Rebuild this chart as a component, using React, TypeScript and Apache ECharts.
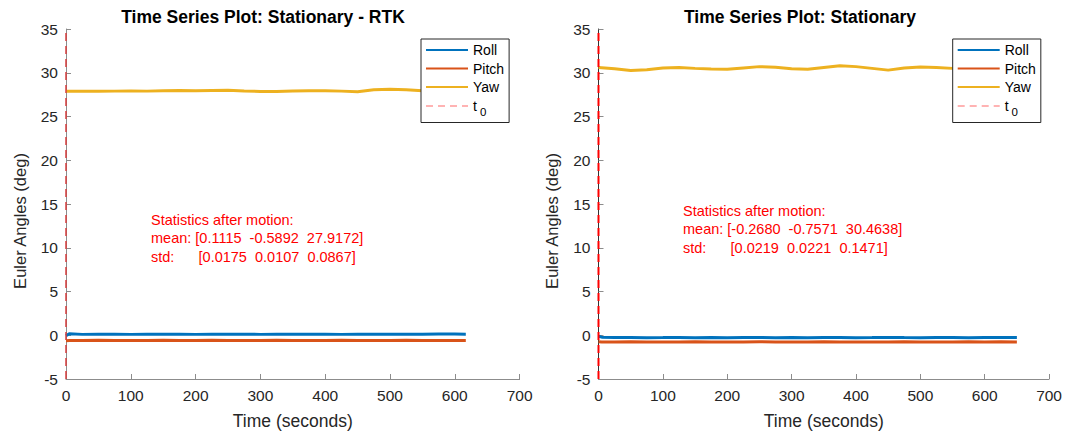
import React, { useEffect, useRef } from 'react';
import * as echarts from 'echarts';

const FONT = '"Liberation Sans", Arial, Helvetica, sans-serif';

const titles = ['Time Series Plot: Stationary - RTK', 'Time Series Plot: Stationary'];
const seriesNames = ['Roll', 'Pitch', 'Yaw', 't0'];
const seriesColors = ['#0072BD', '#D95319', '#EDB120'];
const xTicks = { min: 0, max: 700, interval: 100 };
const yTicks = { min: -5, max: 35, interval: 5 };

// RTK run
const tRtk = [0, 5, 25, 50, 75, 100, 125, 150, 175, 200, 225, 250, 275, 300, 325, 350, 375, 400, 425, 450, 475, 500, 525, 550, 575, 600, 617];
const rollRtk = [-0.05, 0.18, 0.10, 0.11, 0.12, 0.10, 0.11, 0.12, 0.11, 0.10, 0.11, 0.12, 0.11, 0.10, 0.12, 0.11, 0.11, 0.12, 0.10, 0.11, 0.12, 0.12, 0.12, 0.11, 0.13, 0.13, 0.12];
const pitchRtk = [-0.62, -0.60, -0.59, -0.58, -0.59, -0.60, -0.59, -0.58, -0.59, -0.60, -0.58, -0.59, -0.60, -0.59, -0.58, -0.59, -0.60, -0.59, -0.58, -0.59, -0.60, -0.59, -0.58, -0.59, -0.59, -0.60, -0.59];
const yawRtk = [27.90, 27.90, 27.89, 27.88, 27.90, 27.92, 27.90, 27.94, 27.96, 27.93, 27.97, 28.00, 27.92, 27.86, 27.87, 27.92, 27.94, 27.93, 27.90, 27.83, 28.05, 28.12, 28.05, 27.95, 27.90, 27.88, 27.90];

// Stationary run
const tStat = [0, 5, 25, 50, 75, 100, 125, 150, 175, 200, 225, 250, 275, 300, 325, 350, 375, 400, 425, 450, 475, 500, 525, 550, 575, 600, 625, 650];
const rollStat = [-0.12, -0.22, -0.27, -0.26, -0.28, -0.27, -0.25, -0.28, -0.27, -0.29, -0.27, -0.26, -0.28, -0.27, -0.29, -0.26, -0.27, -0.28, -0.27, -0.25, -0.27, -0.28, -0.26, -0.27, -0.28, -0.27, -0.26, -0.27];
const pitchStat = [-0.74, -0.77, -0.76, -0.75, -0.77, -0.76, -0.78, -0.75, -0.76, -0.77, -0.76, -0.74, -0.76, -0.77, -0.76, -0.75, -0.77, -0.76, -0.78, -0.76, -0.75, -0.76, -0.77, -0.76, -0.75, -0.76, -0.74, -0.76];
const yawStat = [30.60, 30.58, 30.45, 30.25, 30.35, 30.53, 30.60, 30.50, 30.42, 30.40, 30.55, 30.70, 30.62, 30.45, 30.40, 30.60, 30.80, 30.70, 30.50, 30.30, 30.55, 30.65, 30.60, 30.50, 30.45, 30.50, 30.50, 30.45];

// t0 marker
const t0Time = [0, 0];
const t0Range = [-5, 35];

// statistics annotations
const statsRtk = ['Statistics after motion:', 'mean: [0.1115  -0.5892  27.9172]', 'std:      [0.0175  0.0107  0.0867]'];
const statsStat = ['Statistics after motion:', 'mean: [-0.2680  -0.7571  30.4638]', 'std:      [0.0219  0.0221  0.1471]'];

const zip = (xs: number[], ys: number[]) => xs.map((x, i) => [x, ys[i]]);

export default function App() {
  const ref = useRef<HTMLDivElement>(null);
  useEffect(() => {
    document.body.style.margin = '0';
    if (!ref.current) return;
    const chart = echarts.init(ref.current, undefined, { renderer: 'svg' });

    const grids = [
      { left: 66, top: 29, width: 453.6, height: 353.7 },
      { left: 598.5, top: 29, width: 452.5, height: 353.7 },
    ];
    const yAxisColors = ['#8c8c8c', '#333333'];
    const t0Colors = ['rgba(215,60,60,0.75)', 'rgba(255,0,0,1)'];

    const xAxis = grids.map((_, i) => ({
      type: 'value', gridIndex: i, ...xTicks,
      name: 'Time (seconds)', nameLocation: 'middle', nameGap: 33,
      nameTextStyle: { fontSize: 17.5, color: '#262626', fontFamily: FONT },
      axisLine: { show: true, onZero: false, lineStyle: { color: '#8c8c8c', width: 1 } },
      axisTick: { show: true, inside: true, length: 5, lineStyle: { color: '#8c8c8c' } },
      axisLabel: { color: '#262626', fontSize: 15.5, margin: 8, fontFamily: FONT },
      splitLine: { show: false },
    }));
    const yAxis = grids.map((_, i) => ({
      type: 'value', gridIndex: i, ...yTicks,
      name: 'Euler Angles (deg)', nameLocation: 'middle', nameGap: 38,
      nameTextStyle: { fontSize: 16.5, color: '#262626', fontFamily: FONT, padding: [0, 34, 0, 0] },
      axisLine: { show: true, onZero: false, lineStyle: { color: yAxisColors[i], width: 1 } },
      axisTick: { show: true, inside: true, length: 5, lineStyle: { color: '#8c8c8c' } },
      axisLabel: { color: '#262626', fontSize: 15.5, margin: 8, fontFamily: FONT },
      splitLine: { show: false },
    }));

    const runs = [
      { t: tRtk, vals: [rollRtk, pitchRtk, yawRtk] },
      { t: tStat, vals: [rollStat, pitchStat, yawStat] },
    ];
    const series: any[] = [];
    runs.forEach((run, gi) => {
      run.vals.forEach((v, k) => {
        series.push({
          type: 'line', name: seriesNames[k], xAxisIndex: gi, yAxisIndex: gi,
          data: zip(run.t, v), symbol: 'none', showSymbol: false,
          lineStyle: { color: seriesColors[k], width: 3 }, itemStyle: { color: seriesColors[k] },
          z: 3,
        });
      });
      series.push({
        type: 'line', name: 't0', xAxisIndex: gi, yAxisIndex: gi,
        data: zip(t0Time, t0Range), symbol: 'none', showSymbol: false,
        lineStyle: { color: t0Colors[gi], width: 2, type: [8, 5] }, itemStyle: { color: t0Colors[gi] },
        z: 4,
      });
    });

    const legendData: any[] = [
      'Roll', 'Pitch', 'Yaw',
      { name: 't0', lineStyle: { color: '#ff9a9a', width: 1.5, type: [7, 5] } },
    ];
    const legendBase = {
      orient: 'vertical', top: 39, itemWidth: 42, itemHeight: 14, itemGap: 4.5,
      padding: [4, 5, 5, 4], borderColor: '#262626', borderWidth: 1, backgroundColor: '#fff',
      selectedMode: false, data: legendData,
      itemStyle: { opacity: 0 },
      formatter: (name: string) => (name === 't0' ? '{t|t}{s|0}' : name),
      textStyle: {
        fontSize: 14, color: '#000', fontFamily: FONT,
        rich: {
          t: { fontSize: 14, color: '#000', fontFamily: FONT, lineHeight: 15, verticalAlign: 'top' },
          s: { fontSize: 11.5, color: '#000', fontFamily: FONT, lineHeight: 11, padding: [7, 0, 0, 3], verticalAlign: 'top' },
        },
      },
    };

    const statTexts = (lines: string[], x: number, y0: number) =>
      lines.map((s, i) => ({
        type: 'text', left: x, top: y0 + i * 18.5, z: 10,
        style: { text: s, fill: '#ff0000', fontSize: 14.5, fontFamily: FONT },
      }));

    chart.setOption({
      animation: false,
      backgroundColor: '#fff',
      title: [
        { text: titles[0], left: 258, top: 3, textAlign: 'center', textStyle: { fontSize: 17.5, fontWeight: 'bold', color: '#000', fontFamily: FONT } },
        { text: titles[1], left: 795, top: 3, textAlign: 'center', textStyle: { fontSize: 17.5, fontWeight: 'bold', color: '#000', fontFamily: FONT } },
      ],
      grid: grids,
      xAxis, yAxis,
      legend: [{ ...legendBase, left: 421 }, { ...legendBase, left: 952.7 }],
      series,
      graphic: [...statTexts(statsRtk, 151, 212), ...statTexts(statsStat, 683, 203)],
    });
    return () => chart.dispose();
  }, []);
  return <div ref={ref} style={{ width: 1065, height: 435 }} />;
}
